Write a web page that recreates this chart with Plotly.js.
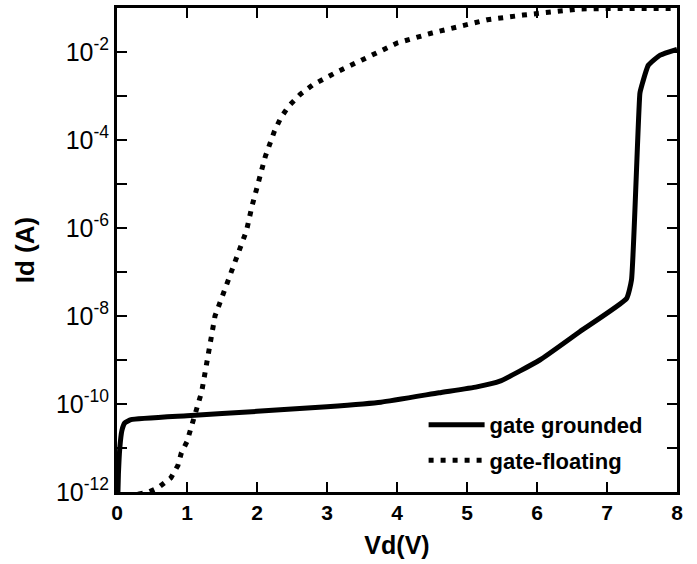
<!DOCTYPE html>
<html>
<head>
<meta charset="utf-8">
<script src="https://cdn.plot.ly/plotly-3.0.1.min.js"></script>
<style>html,body{margin:0;padding:0;background:#fff;}#chart{width:697px;height:564px;}</style>
</head>
<body>
<div id="chart"></div>
<script>
// Gate grounded (solid)
const groundedVd = [0.01, 0.02, 0.04, 0.07, 0.11, 0.2, 1.0, 2.0, 3.0, 3.77, 4.6, 5.14, 5.47, 6.04, 6.61, 7.28, 7.35, 7.47, 7.50, 7.59, 7.76, 8.0];
const groundedId = [6.3e-13, 2.5e-12, 1e-11, 2.5e-11, 3.7e-11, 4.4e-11, 5.4e-11, 6.8e-11, 8.7e-11, 1.1e-10, 1.8e-10, 2.45e-10, 3.3e-10, 1e-9, 4.4e-9, 2.5e-8, 6.6e-8, 1.15e-3, 1.8e-3, 5e-3, 8.5e-3, 1.15e-2];

// Gate floating (dotted)
const floatingVd = [0.3, 0.45, 0.59, 0.77, 0.87, 0.92, 1.0, 1.05, 1.16, 1.21, 1.40, 1.85, 1.93, 2.02, 2.12, 2.25, 2.34, 2.45, 2.62, 2.8, 2.98, 3.14, 3.5, 4.0, 4.5, 5.0, 5.29, 5.8, 6.19, 6.37, 6.6, 7.0, 8.0];
const floatingId = [8.9e-13, 1.0e-12, 1.26e-12, 2.1e-12, 4e-12, 7.8e-12, 1.4e-11, 2.7e-11, 1e-10, 1.9e-10, 1e-8, 8.7e-7, 3.2e-6, 1.23e-5, 4.3e-5, 1.6e-4, 3.2e-4, 5.8e-4, 1.1e-3, 1.8e-3, 2.6e-3, 3.5e-3, 6.6e-3, 1.6e-2, 2.7e-2, 4.1e-2, 5.4e-2, 6.9e-2, 7.9e-2, 8.7e-2, 9.5e-2, 9.7e-2, 9.7e-2];

const seriesNames = ["gate grounded", "gate-floating"];

// Axis ticks
const xTickVals = [0, 1, 2, 3, 4, 5, 6, 7, 8];
const xTickText = ["0", "1", "2", "3", "4", "5", "6", "7", "8"];
const yTickVals = [1e-12, 1e-11, 1e-10, 1e-9, 1e-8, 1e-7, 1e-6, 1e-5, 1e-4, 1e-3, 1e-2];
const yTickText = ["10<sup>-12</sup>", "", "10<sup>-10</sup>", "", "10<sup>-8</sup>", "", "10<sup>-6</sup>", "", "10<sup>-4</sup>", "", "10<sup>-2</sup>"];

const FONT = "Liberation Sans, Arial, sans-serif";

const traces = [
  {
    x: groundedVd, y: groundedId, name: seriesNames[0], mode: "lines",
    legendgroup: "a",
    line: {color: "#000", width: 5, shape: "spline", smoothing: 0.4}
  },
  {
    x: floatingVd, y: floatingId, name: seriesNames[1], mode: "lines",
    legendgroup: "b",
    line: {color: "#000", width: 5, dash: "5px,7px"}
  }
];

const layout = {
  width: 697, height: 564,
  margin: {l: 117, r: 20, t: 8, b: 72, pad: 0},
  paper_bgcolor: "#fff", plot_bgcolor: "#fff",
  showlegend: true,
  legend: {
    x: 0.5475, y: 0.182, xanchor: "left", yanchor: "top",
    bgcolor: "rgba(0,0,0,0)", borderwidth: 0,
    traceorder: "grouped", tracegroupgap: 4, itemwidth: 56,
    font: {family: FONT, size: 22, color: "#000", weight: "bold"}
  },
  xaxis: {
    range: [0, 8], tickmode: "array", tickvals: xTickVals, ticktext: xTickText,
    ticks: "inside", ticklen: 10, tickwidth: 2.5, tickcolor: "#000",
    showline: true, linewidth: 3, linecolor: "#000", mirror: "ticks",
    showgrid: false, zeroline: false,
    tickfont: {family: FONT, size: 21, color: "#000", weight: "bold"},
    title: {text: "Vd(V)", font: {family: FONT, size: 25, color: "#000", weight: "bold"}, standoff: 14}
  },
  yaxis: {
    type: "log", range: [-12, -1], tickmode: "array", tickvals: yTickVals, ticktext: yTickText,
    ticks: "inside", ticklen: 10, tickwidth: 2.5, tickcolor: "#000",
    showline: true, linewidth: 3, linecolor: "#000", mirror: "ticks",
    showgrid: false, zeroline: false,
    tickfont: {family: FONT, size: 25, color: "#000"},
    title: {text: "Id (A)", font: {family: FONT, size: 26, color: "#000", weight: "bold"}, standoff: 14}
  }
};

Plotly.newPlot("chart", traces, layout, {staticPlot: true, displayModeBar: false});
</script>
</body>
</html>
